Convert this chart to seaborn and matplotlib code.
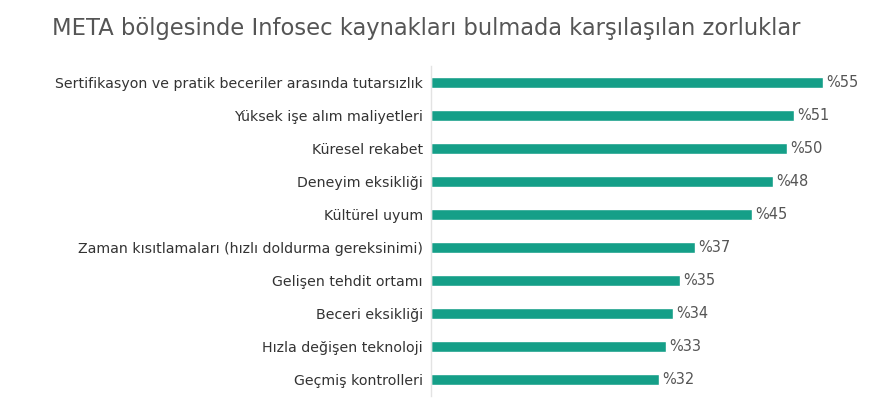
import matplotlib
matplotlib.use("Agg")
import matplotlib.pyplot as plt
import seaborn as sns
import pandas as pd

categories = [
    "Sertifikasyon ve pratik beceriler arasında tutarsızlık",
    "Yüksek işe alım maliyetleri",
    "Küresel rekabet",
    "Deneyim eksikliği",
    "Kültürel uyum",
    "Zaman kısıtlamaları (hızlı doldurma gereksinimi)",
    "Gelişen tehdit ortamı",
    "Beceri eksikliği",
    "Hızla değişen teknoloji",
    "Geçmiş kontrolleri",
]
values = [55, 51, 50, 48, 45, 37, 35, 34, 33, 32]
value_labels = [f"%{v}" for v in values]

sns.set_theme(style="white")
plt.rcParams['font.family'] = ['DejaVu Sans']

df = pd.DataFrame({"kategori": categories, "deger": values})

fig = plt.figure(figsize=(8.86, 4.18), dpi=100)
ax = fig.add_axes([431/886, 1 - 396/418, 449/886, 330/418])

sns.barplot(data=df, y="kategori", x="deger", orient="h", color="#159f88",
            width=0.33, ax=ax, saturation=1)

ax.set_xlim(0, 63)
ax.set_ylim(9.5, -0.5)
ax.set_xlabel("")
ax.set_ylabel("")
ax.set_xticks([])
for s in ["top", "right", "bottom"]:
    ax.spines[s].set_visible(False)
ax.spines["left"].set_color("#e3e3e3")
ax.spines["left"].set_linewidth(1)
ax.tick_params(axis="y", length=0, pad=6, labelsize=10.2, labelcolor="#333333")

for i, (v, lab) in enumerate(zip(values, value_labels)):
    ax.text(v + 0.45, i, lab, va="center", ha="left", fontsize=10.5, color="#555555")

fig.text(52/886, 1 - 28/418, "META bölgesinde Infosec kaynakları bulmada karşılaşılan zorluklar",
         fontsize=16.3, color="#555555", va="center", ha="left")

fig.savefig("out.png", dpi=100, facecolor="white")
